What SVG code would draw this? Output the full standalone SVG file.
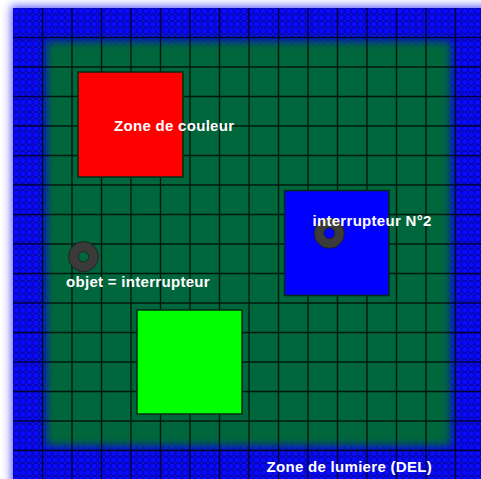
<svg xmlns="http://www.w3.org/2000/svg" width="481" height="479" viewBox="0 0 481 479">
<defs>
<style>
.lbl{font-family:"Liberation Sans",Arial,sans-serif;font-weight:bold;font-size:15px;letter-spacing:0.3px;fill:#ffffff}
.zone{stroke:#062a12;stroke-width:1.5}
.donut{fill:#3a3a3a;stroke:#222;stroke-width:1;fill-rule:evenodd}
.grid{stroke:#000;stroke-opacity:0.75;stroke-width:1.4;fill:none}
</style>
<pattern id="dots" x="13" y="8" width="6.5" height="6.5" patternUnits="userSpaceOnUse">
<rect width="6.5" height="6.5" fill="#0000a0"/>
<circle cx="3.25" cy="3.25" r="2.8" fill="#0a0aff"/>
<circle cx="0" cy="0" r="1.2" fill="#1414e0"/>
<circle cx="6.5" cy="0" r="1.2" fill="#1414e0"/>
<circle cx="0" cy="6.5" r="1.2" fill="#1414e0"/>
<circle cx="6.5" cy="6.5" r="1.2" fill="#1414e0"/>
</pattern>
<filter id="glow" x="-10%" y="-10%" width="120%" height="120%"><feGaussianBlur stdDeviation="4"/></filter>
<filter id="soft" x="-10%" y="-10%" width="120%" height="120%"><feGaussianBlur stdDeviation="4"/></filter>
</defs>
<rect width="481" height="479" fill="#ffffff"/>
<g id="led-zone">
<rect x="11" y="6" width="480" height="480" fill="#3333ff" opacity="0.8" filter="url(#glow)"/>
<rect x="13" y="8" width="470" height="475" fill="url(#dots)"/>
</g>
<g id="board">
<rect x="46" y="41" width="405" height="405" fill="#04663a" filter="url(#soft)"/>
</g>
<path class="grid" d="M42.5 8V479M72 8V479M101.5 8V479M131 8V479M160.5 8V479M190 8V479M219.5 8V479M249 8V479M278.5 8V479M308 8V479M337.5 8V479M367 8V479M396.5 8V479M426 8V479M455.5 8V479M13 37.5H481M13 67H481M13 96.5H481M13 126H481M13 155.5H481M13 185H481M13 214.5H481M13 244H481M13 273.5H481M13 303H481M13 332.5H481M13 362H481M13 391.5H481M13 421H481M13 450.5H481"/>
<g id="zone-rouge">
<rect class="zone" x="78" y="72" width="105" height="105" fill="#ff0000"/>
<text class="lbl" x="114" y="131">Zone de couleur</text>
</g>
<g id="zone-bleue">
<rect class="zone" x="284.5" y="190.5" width="104.5" height="105" fill="#0000ff"/>
</g>
<g id="zone-verte">
<rect class="zone" x="137" y="310" width="105" height="104" fill="#00ff00"/>
</g>
<g id="interrupteur-2">
<path class="donut" d="M314.3 233.3a15 15 0 1 0 30 0a15 15 0 1 0 -30 0ZM323.8 233.3a5.5 5.5 0 1 0 11 0a5.5 5.5 0 1 0 -11 0Z"/>
<text class="lbl" x="312.5" y="226">interrupteur N°2</text>
</g>
<g id="objet">
<path class="donut" d="M68.5 256.7a15 15 0 1 0 30 0a15 15 0 1 0 -30 0ZM78.3 256.7a5.2 5.2 0 1 0 10.4 0a5.2 5.2 0 1 0 -10.4 0Z"/>
<text class="lbl" x="66" y="287">objet = interrupteur</text>
</g>
<g id="label-led">
<text class="lbl" x="266.5" y="472">Zone de lumiere (DEL)</text>
</g>
</svg>
